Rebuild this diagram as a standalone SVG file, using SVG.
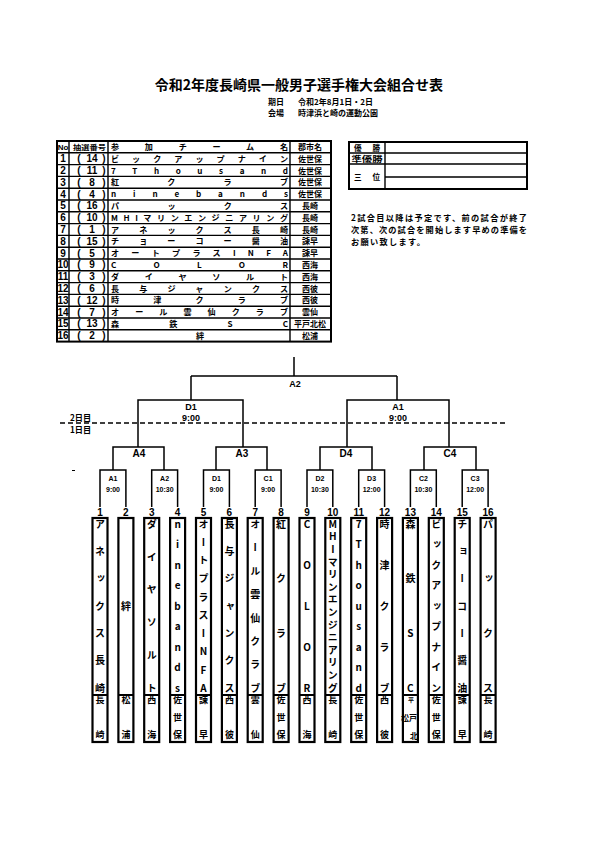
<svg xmlns="http://www.w3.org/2000/svg" width="595" height="842" viewBox="0 0 595 842">
<style>
text{font-family:"Noto Sans CJK JP","Noto Sans",sans-serif;font-weight:700;fill:#000}
text.L,.L text{font-family:"Liberation Sans","Noto Sans CJK JP",sans-serif}
.ln{stroke:#000;stroke-width:1.5;fill:none}
.tb{stroke:#000;stroke-width:1.4;fill:none}
.ob{stroke:#000;stroke-width:2;fill:none}
.bx{stroke:#000;stroke-width:2.2;fill:#fff}
.v{writing-mode:vertical-rl;text-orientation:upright}
.c{text-anchor:middle}
.f10{font-size:10px}
.f9{font-size:9px}
.f8{font-size:8px}
.f7{font-size:7px}
.tn{font-size:8.1px}
.nm{font-size:10px}
.ds{font-size:9px}
</style>
<rect width="595" height="842" fill="#fff"/>
<g id="title">
<text x="299" y="90" class="c" font-size="14">令和2年度長崎県一般男子選手権大会組合せ表</text>
<text x="268" y="104.5" class="f8">期日</text>
<text x="298" y="104.5" class="f8">令和2年8月1日・2日</text>
<text x="268" y="116" class="f8">会場</text>
<text x="298" y="116" class="f8">時津浜と崎の運動公園</text>
</g>
<g id="entry-table">
<rect x="57" y="141" width="274" height="200.6" class="ob"/>
<path class="tb" d="M57,152.8H331M57,164.6H331M57,176.4H331M57,188.2H331M57,200H331M57,211.8H331M57,223.6H331M57,235.4H331M57,247.2H331M57,259H331M57,270.8H331M57,282.6H331M57,294.4H331M57,306.2H331M57,318H331M57,329.8H331M69,141V341.6M108,141V341.6M290,141V341.6"/>
<text x="63" y="150.2" class="c L" font-size="8">No</text>
<text x="73" y="149.6" font-size="6.5" textLength="33" lengthAdjust="spacingAndGlyphs">抽選番号</text>
<text x="111" y="150.2" class="tn" textLength="177" lengthAdjust="spacing">参加チーム名</text>
<text x="310" y="150.2" class="c f8">郡市名</text>
<g class="L f10">
<text x="63" y="162.2" class="c">1</text><text x="79" y="162.2" class="c">(</text><text x="92" y="162.2" class="c">14</text><text x="104" y="162.2" class="c">)</text>
<text x="63" y="174" class="c">2</text><text x="79" y="174" class="c">(</text><text x="92" y="174" class="c">11</text><text x="104" y="174" class="c">)</text>
<text x="63" y="185.8" class="c">3</text><text x="79" y="185.8" class="c">(</text><text x="92" y="185.8" class="c">8</text><text x="104" y="185.8" class="c">)</text>
<text x="63" y="197.6" class="c">4</text><text x="79" y="197.6" class="c">(</text><text x="92" y="197.6" class="c">4</text><text x="104" y="197.6" class="c">)</text>
<text x="63" y="209.4" class="c">5</text><text x="79" y="209.4" class="c">(</text><text x="92" y="209.4" class="c">16</text><text x="104" y="209.4" class="c">)</text>
<text x="63" y="221.2" class="c">6</text><text x="79" y="221.2" class="c">(</text><text x="92" y="221.2" class="c">10</text><text x="104" y="221.2" class="c">)</text>
<text x="63" y="233" class="c">7</text><text x="79" y="233" class="c">(</text><text x="92" y="233" class="c">1</text><text x="104" y="233" class="c">)</text>
<text x="63" y="244.8" class="c">8</text><text x="79" y="244.8" class="c">(</text><text x="92" y="244.8" class="c">15</text><text x="104" y="244.8" class="c">)</text>
<text x="63" y="256.6" class="c">9</text><text x="79" y="256.6" class="c">(</text><text x="92" y="256.6" class="c">5</text><text x="104" y="256.6" class="c">)</text>
<text x="63" y="268.4" class="c">10</text><text x="79" y="268.4" class="c">(</text><text x="92" y="268.4" class="c">9</text><text x="104" y="268.4" class="c">)</text>
<text x="63" y="280.2" class="c">11</text><text x="79" y="280.2" class="c">(</text><text x="92" y="280.2" class="c">3</text><text x="104" y="280.2" class="c">)</text>
<text x="63" y="292" class="c">12</text><text x="79" y="292" class="c">(</text><text x="92" y="292" class="c">6</text><text x="104" y="292" class="c">)</text>
<text x="63" y="303.8" class="c">13</text><text x="79" y="303.8" class="c">(</text><text x="92" y="303.8" class="c">12</text><text x="104" y="303.8" class="c">)</text>
<text x="63" y="315.6" class="c">14</text><text x="79" y="315.6" class="c">(</text><text x="92" y="315.6" class="c">7</text><text x="104" y="315.6" class="c">)</text>
<text x="63" y="327.4" class="c">15</text><text x="79" y="327.4" class="c">(</text><text x="92" y="327.4" class="c">13</text><text x="104" y="327.4" class="c">)</text>
<text x="63" y="339.2" class="c">16</text><text x="79" y="339.2" class="c">(</text><text x="92" y="339.2" class="c">2</text><text x="104" y="339.2" class="c">)</text>
</g>
<g class="tn">
<text x="111" y="161.8" textLength="177" lengthAdjust="spacing">ビックアップナイン</text><text x="310" y="161.8" class="c f8">佐世保</text>
<text x="111" y="173.6" textLength="177" lengthAdjust="spacing">7Thousand</text><text x="310" y="173.6" class="c f8">佐世保</text>
<text x="111" y="185.4" textLength="177" lengthAdjust="spacing">紅クラブ</text><text x="310" y="185.4" class="c f8">佐世保</text>
<text x="111" y="197.2" textLength="177" lengthAdjust="spacing">ninebands</text><text x="310" y="197.2" class="c f8">佐世保</text>
<text x="111" y="209" textLength="177" lengthAdjust="spacing">パックス</text><text x="310" y="209" class="c f8">長崎</text>
<text x="111" y="220.8" textLength="177" lengthAdjust="spacing">MHIマリンエンジニアリング</text><text x="310" y="220.8" class="c f8">長崎</text>
<text x="111" y="232.6" textLength="177" lengthAdjust="spacing">アネックス長崎</text><text x="310" y="232.6" class="c f8">長崎</text>
<text x="111" y="244.4" textLength="177" lengthAdjust="spacing">チョーコー醤油</text><text x="310" y="244.4" class="c f8">諫早</text>
<text x="111" y="256.2" textLength="177" lengthAdjust="spacing">オートプラスINFA</text><text x="310" y="256.2" class="c f8">諫早</text>
<text x="111" y="268" textLength="177" lengthAdjust="spacing">COLOR</text><text x="310" y="268" class="c f8">西海</text>
<text x="111" y="279.8" textLength="177" lengthAdjust="spacing">ダイヤソルト</text><text x="310" y="279.8" class="c f8">西海</text>
<text x="111" y="291.6" textLength="177" lengthAdjust="spacing">長与ジャンクス</text><text x="310" y="291.6" class="c f8">西彼</text>
<text x="111" y="303.4" textLength="177" lengthAdjust="spacing">時津クラブ</text><text x="310" y="303.4" class="c f8">西彼</text>
<text x="111" y="315.2" textLength="177" lengthAdjust="spacing">オール雲仙クラブ</text><text x="310" y="315.2" class="c f8">雲仙</text>
<text x="111" y="327" textLength="177" lengthAdjust="spacing">森鉄SC</text><text x="310" y="327" class="c f8">平戸北松</text>
<text x="200" y="338.8" class="c">絆</text><text x="310" y="338.8" class="c f8">松浦</text>
</g>
</g>
<g id="results">
<rect x="349" y="142" width="178" height="47" class="ob"/>
<path class="tb" d="M349,153H527M349,164H527M385,177H527M385,142V189"/>
<text x="367" y="150.8" class="c" font-size="7.6" textLength="26" lengthAdjust="spacing">優勝</text>
<text x="367" y="161.8" class="c" font-size="7.6" textLength="31" lengthAdjust="spacingAndGlyphs">準優勝</text>
<text x="367" y="179.8" class="c" font-size="7.6" textLength="26" lengthAdjust="spacing">三位</text>
</g>
<g id="note" font-size="8.2">
<text x="351" y="220.5" textLength="176" lengthAdjust="spacing">2試合目以降は予定です、前の試合が終了</text>
<text x="351" y="232.5" textLength="176" lengthAdjust="spacing">次第、次の試合を開始します早めの準備を</text>
<text x="351" y="244.5" textLength="74" lengthAdjust="spacing">お願い致します。</text>
</g>
<g id="connectors">
<path class="ln" d="M294,357V376M191,376H397M191,376V400M397,376V400"/>
<path class="ln" d="M138,447V400H243V447M347,447V400H449V447"/>
<path class="ln" d="M113,470V447H164V470M216,470V447H267V470M320,470V447H372V470M424,470V447H476V470"/>
<path class="ln" d="M100,507V470H125.9V507M151.7,507V470H177.6V507M203.5,507V470H229.4V507M255.2,507V470H281.1V507M307,507V470H332.8V507M358.7,507V470H384.6V507M410.4,507V470H436.3V507M462.2,507V470H488.1V507"/>
<path d="M60,423H507" stroke="#000" stroke-width="1.6" stroke-dasharray="5,3"/>
<path d="M72,470.5H75" stroke="#000" stroke-width="1"/>
</g>
<g id="day-labels" font-size="8.2">
<text x="70" y="420.5">2日目</text>
<text x="70" y="432.5">1日目</text>
</g>
<g id="match-labels" class="L">
<text x="295" y="387" class="c f9">A2</text>
<text x="191" y="410" class="c f9">D1</text><text x="191" y="421" class="c f9">9:00</text>
<text x="398" y="410" class="c f9">A1</text><text x="398" y="421" class="c f9">9:00</text>
<text x="139" y="457" class="c f10">A4</text>
<text x="242" y="457" class="c f10">A3</text>
<text x="346" y="457" class="c f10">D4</text>
<text x="450" y="457" class="c f10">C4</text>
<g class="f7">
<text x="113" y="481" class="c">A1</text><text x="113" y="492" class="c">9:00</text>
<text x="164.6" y="481" class="c">A2</text><text x="164.6" y="492" class="c">10:30</text>
<text x="216.4" y="481" class="c">D1</text><text x="216.4" y="492" class="c">9:00</text>
<text x="268.1" y="481" class="c">C1</text><text x="268.1" y="492" class="c">9:00</text>
<text x="319.9" y="481" class="c">D2</text><text x="319.9" y="492" class="c">10:30</text>
<text x="371.6" y="481" class="c">D3</text><text x="371.6" y="492" class="c">12:00</text>
<text x="423.4" y="481" class="c">C2</text><text x="423.4" y="492" class="c">10:30</text>
<text x="475.1" y="481" class="c">C3</text><text x="475.1" y="492" class="c">12:00</text>
</g>
</g>
<g id="team-numbers" class="L f10">
<text x="100" y="516" class="c">1</text><text x="125.9" y="516" class="c">2</text><text x="151.7" y="516" class="c">3</text><text x="177.6" y="516" class="c">4</text>
<text x="203.5" y="516" class="c">5</text><text x="229.4" y="516" class="c">6</text><text x="255.2" y="516" class="c">7</text><text x="281.1" y="516" class="c">8</text>
<text x="307" y="516" class="c">9</text><text x="332.8" y="516" class="c">10</text><text x="358.7" y="516" class="c">11</text><text x="384.6" y="516" class="c">12</text>
<text x="410.4" y="516" class="c">13</text><text x="436.3" y="516" class="c">14</text><text x="462.2" y="516" class="c">15</text><text x="488.1" y="516" class="c">16</text>
</g>
<g id="team1"><rect x="92.5" y="518" width="15" height="224" class="bx"/><path class="ob" d="M92.5,695H107.5"/>
<text class="v nm" x="100" y="519" letter-spacing="17.33">アネックス長崎</text><text class="v ds" x="100" y="695.5" letter-spacing="26">長崎</text></g>
<g id="team2"><rect x="118.4" y="518" width="15" height="224" class="bx"/><path class="ob" d="M118.4,695H133.4"/>
<text class="v nm" x="125.9" y="601">絆</text><text class="v ds" x="125.9" y="695.5" letter-spacing="26">松浦</text></g>
<g id="team3"><rect x="144.2" y="518" width="15" height="224" class="bx"/><path class="ob" d="M144.2,695H159.2"/>
<text class="v nm" x="151.7" y="519" letter-spacing="22.8">ダイヤソルト</text><text class="v ds" x="151.7" y="695.5" letter-spacing="26">西海</text></g>
<g id="team4"><rect x="170.1" y="518" width="15" height="224" class="bx"/><path class="ob" d="M170.1,695H185.1"/>
<text class="v nm" x="177.6" y="519" letter-spacing="10.5">ninebands</text><text class="v ds" x="177.6" y="695.5" letter-spacing="8.5">佐世保</text></g>
<g id="team5"><rect x="196" y="518" width="15" height="224" class="bx"/><path class="ob" d="M196,695H211"/>
<text class="v nm" x="203.5" y="519" letter-spacing="8.22">オートプラスINFA</text><text class="v ds" x="203.5" y="695.5" letter-spacing="26">諫早</text></g>
<g id="team6"><rect x="221.9" y="518" width="15" height="224" class="bx"/><path class="ob" d="M221.9,695H236.9"/>
<text class="v nm" x="229.4" y="519" letter-spacing="17.33">長与ジャンクス</text><text class="v ds" x="229.4" y="695.5" letter-spacing="26">西彼</text></g>
<g id="team7"><rect x="247.7" y="518" width="15" height="224" class="bx"/><path class="ob" d="M247.7,695H262.7"/>
<text class="v nm" x="255.2" y="519" letter-spacing="13.43">オール雲仙クラブ</text><text class="v ds" x="255.2" y="695.5" letter-spacing="26">雲仙</text></g>
<g id="team8"><rect x="273.6" y="518" width="15" height="224" class="bx"/><path class="ob" d="M273.6,695H288.6"/>
<text class="v nm" x="281.1" y="519" letter-spacing="44.67">紅クラブ</text><text class="v ds" x="281.1" y="695.5" letter-spacing="8.5">佐世保</text></g>
<g id="team9"><rect x="299.5" y="518" width="15" height="224" class="bx"/><path class="ob" d="M299.5,695H314.5"/>
<text class="v nm" x="307" y="519" letter-spacing="31">COLOR</text><text class="v ds" x="307" y="695.5" letter-spacing="26">西海</text></g>
<g id="team10"><rect x="325.3" y="518" width="15" height="224" class="bx"/><path class="ob" d="M325.3,695H340.3"/>
<text class="v nm" x="332.8" y="519" letter-spacing="2.6">MHIマリンエンジニアリング</text><text class="v ds" x="332.8" y="695.5" letter-spacing="26">長崎</text></g>
<g id="team11"><rect x="351.2" y="518" width="15" height="224" class="bx"/><path class="ob" d="M351.2,695H366.2"/>
<text class="v nm" x="358.7" y="519" letter-spacing="10.5">7Thousand</text><text class="v ds" x="358.7" y="695.5" letter-spacing="8.5">佐世保</text></g>
<g id="team12"><rect x="377.1" y="518" width="15" height="224" class="bx"/><path class="ob" d="M377.1,695H392.1"/>
<text class="v nm" x="384.6" y="519" letter-spacing="31">時津クラブ</text><text class="v ds" x="384.6" y="695.5" letter-spacing="26">西彼</text></g>
<g id="team13"><rect x="402.9" y="518" width="15" height="224" class="bx"/><path class="ob" d="M402.9,695H417.9"/>
<text class="v nm" x="410.4" y="519" letter-spacing="44.67">森鉄SC</text>
<text x="411" y="702" class="c" font-size="6">平</text><text x="405" y="721" class="c" font-size="8">松</text><text x="413" y="721" class="c" font-size="8">戸</text><text x="414" y="739" class="c" font-size="8">北</text></g>
<g id="team14"><rect x="428.8" y="518" width="15" height="224" class="bx"/><path class="ob" d="M428.8,695H443.8"/>
<text class="v nm" x="436.3" y="519" letter-spacing="10.5">ビックアップナイン</text><text class="v ds" x="436.3" y="695.5" letter-spacing="8.5">佐世保</text></g>
<g id="team15"><rect x="454.7" y="518" width="15" height="224" class="bx"/><path class="ob" d="M454.7,695H469.7"/>
<text class="v nm" x="462.2" y="519" letter-spacing="17.33">チョーコー醤油</text><text class="v ds" x="462.2" y="695.5" letter-spacing="26">諫早</text></g>
<g id="team16"><rect x="480.6" y="518" width="15" height="224" class="bx"/><path class="ob" d="M480.6,695H495.6"/>
<text class="v nm" x="488.1" y="519" letter-spacing="44.67">パックス</text><text class="v ds" x="488.1" y="695.5" letter-spacing="26">長崎</text></g>
</svg>
